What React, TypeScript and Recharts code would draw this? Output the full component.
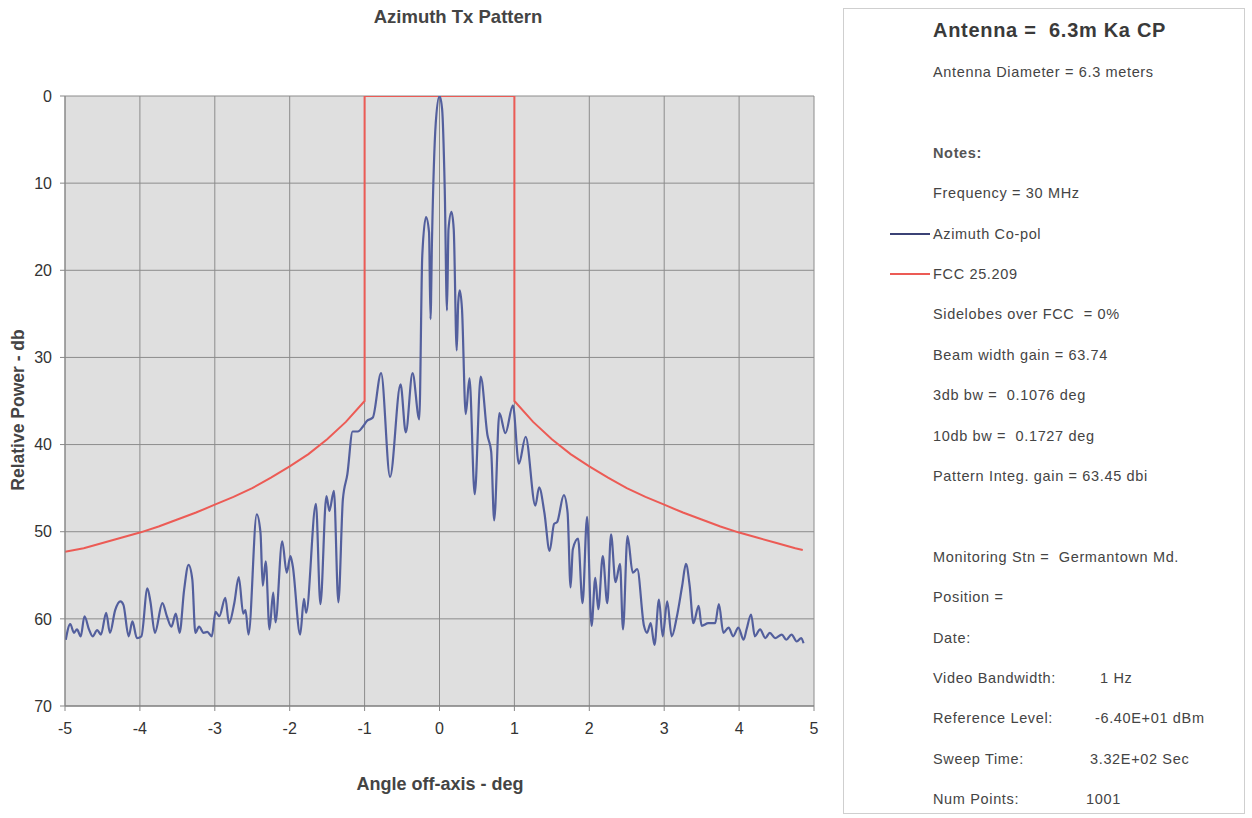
import { LineChart, Line, XAxis, YAxis, CartesianGrid } from 'recharts';

const ANGLE_TICKS = [-5, -4, -3, -2, -1, 0, 1, 2, 3, 4, 5];
const DB_TICKS = [0, 10, 20, 30, 40, 50, 60, 70];

// Azimuth co-pol trace (deg, dB below peak)
const COPOL_ANGLE = [
  -4.99, -4.93, -4.88, -4.84, -4.79, -4.74, -4.68, -4.63, -4.57, -4.52,
  -4.45, -4.4, -4.33, -4.26, -4.22, -4.15, -4.1, -4.04, -3.98, -3.9,
  -3.86, -3.8, -3.7, -3.64, -3.58, -3.52, -3.47, -3.41, -3.35, -3.3,
  -3.26, -3.21, -3.15, -3.1, -3.04, -2.99, -2.94, -2.86, -2.81, -2.74,
  -2.68, -2.62, -2.59, -2.55, -2.44, -2.39, -2.36, -2.32, -2.27, -2.22,
  -2.19, -2.1, -2.04, -1.99, -1.96, -1.86, -1.81, -1.78, -1.65, -1.59,
  -1.51, -1.47, -1.41, -1.35, -1.29, -1.23, -1.16, -1.09, -1.02, -0.97,
  -0.89, -0.78, -0.66, -0.52, -0.45, -0.36, -0.27, -0.23, -0.18, -0.14,
  -0.12, -0.1, -0.05, 0, 0.035, 0.07, 0.1, 0.12, 0.16, 0.19,
  0.23, 0.25, 0.27, 0.3, 0.35, 0.4, 0.47, 0.55, 0.64, 0.69,
  0.73, 0.8, 0.88, 0.98, 1.06, 1.15, 1.28, 1.33, 1.4, 1.47,
  1.53, 1.57, 1.66, 1.71, 1.75, 1.78, 1.85, 1.91, 1.97, 2.03,
  2.08, 2.12, 2.18, 2.24, 2.29, 2.35, 2.41, 2.45, 2.51, 2.58,
  2.64, 2.73, 2.77, 2.82, 2.87, 2.93, 2.98, 3.04, 3.1, 3.17,
  3.24, 3.29, 3.34, 3.39, 3.46, 3.5, 3.59, 3.68, 3.73, 3.79,
  3.86, 3.92, 3.99, 4.06, 4.1, 4.16, 4.21, 4.28, 4.35, 4.41,
  4.48, 4.57, 4.63, 4.7, 4.77, 4.83, 4.86,
];
const COPOL_DB = [
  62.4, 60.6, 61.6, 61.2, 62.0, 59.7, 61.2, 62.0, 61.3, 61.8,
  59.3, 61.6, 59.0, 58.0, 58.4, 62.0, 60.3, 62.2, 62.0, 56.5,
  58.0, 61.6, 58.2, 59.7, 60.9, 59.4, 61.6, 56.7, 53.8, 55.5,
  61.6, 60.9, 61.6, 61.5, 62.0, 59.2, 59.7, 57.6, 60.5, 58.2,
  55.2, 59.4, 59.0, 61.8, 48.0, 50.1, 56.2, 53.4, 61.2, 57.0,
  60.4, 51.1, 54.7, 52.8, 53.9, 61.8, 57.7, 59.3, 46.8, 58.3,
  45.9, 47.6, 45.3, 58.1, 46.3, 43.4, 38.5, 38.5, 37.9, 37.3,
  36.9, 31.8, 43.7, 33.1, 38.6, 31.8, 37.1, 18.3, 13.9, 15.6,
  25.6, 16.4, 3.1, 0, 1.5, 10.7, 24.6, 15.3, 13.3, 15.3,
  29.2, 23.7, 22.3, 24.4, 36.5, 32.4, 45.7, 32.2, 38.9, 40.8,
  48.7, 36.4, 38.7, 35.5, 42.2, 39.1, 47.0, 44.9, 47.8, 52.2,
  49.1, 48.9, 45.8, 47.8, 56.4, 52.0, 50.8, 58.2, 48.3, 60.8,
  55.3, 58.9, 52.8, 58.2, 50.3, 55.8, 53.7, 61.2, 50.5, 54.7,
  54.3, 60.8, 61.6, 60.5, 63.0, 57.8, 62.0, 58.0, 62.0, 59.7,
  56.2, 53.7, 56.2, 60.5, 58.5, 60.8, 60.5, 60.5, 58.3, 61.6,
  61.0, 62.0, 61.0, 62.4, 61.2, 59.5, 62.0, 61.2, 62.2, 61.6,
  62.2, 61.8, 62.4, 61.8, 62.6, 62.2, 62.8,
];

// FCC 25.209 mask as drawn
const FCC_ANGLE = [
  -5, -4.75, -4.5, -4.25, -4, -3.75, -3.5, -3.25, -3, -2.75, -2.5, -2.25,
  -2, -1.75, -1.5, -1.25, -1, -1, 1, 1, 1.25, 1.5, 1.75, 2, 2.25, 2.5,
  2.75, 3, 3.25, 3.5, 3.75, 4, 4.25, 4.5, 4.75, 4.85,
];
const FCC_DB = [
  52.3, 51.9, 51.3, 50.7, 50.1, 49.4, 48.6, 47.8, 46.9, 46.0, 45.0, 43.8,
  42.5, 41.1, 39.4, 37.4, 35.0, 0, 0, 35.0, 37.4, 39.4, 41.1, 42.5, 43.8, 45.0,
  46.0, 46.9, 47.8, 48.6, 49.4, 50.1, 50.7, 51.3, 51.9, 52.1,
];

const CHART_TITLE = 'Azimuth Tx Pattern';
const X_TITLE = 'Angle off-axis - deg';
const Y_TITLE = 'Relative Power - db';

const PANEL_TITLE = 'Antenna =  6.3m Ka CP';
const PANEL_LABELS = [
  'Antenna Diameter = 6.3 meters',
  '',
  'Notes:',
  'Frequency = 30 MHz',
  'Azimuth Co-pol',
  'FCC 25.209',
  'Sidelobes over FCC  = 0%',
  'Beam width gain = 63.74',
  '3db bw =  0.1076 deg',
  '10db bw =  0.1727 deg',
  'Pattern Integ. gain = 63.45 dbi',
  '',
  'Monitoring Stn =  Germantown Md.',
  'Position =',
  'Date:',
  'Video Bandwidth:',
  'Reference Level:',
  'Sweep Time:',
  'Num Points:',
];
const PANEL_VALUES = [
  '', '', '', '', '', '', '', '', '', '', '', '', '', '', '',
  '1 Hz', '-6.40E+01 dBm', '3.32E+02 Sec', '1001',
];

const BLUE = '#535f9d';
const RED = '#ec5b55';
const FONT = '"Liberation Sans", Arial, sans-serif';

const copolData = COPOL_ANGLE.map((x, i) => ({ x, y: COPOL_DB[i] }));
const fccData = FCC_ANGLE.map((x, i) => ({ x, y: FCC_DB[i] }));

const tickStyle = { fontFamily: FONT, fontSize: 16, fill: '#333' };
const valueX = [1100, 1095, 1090, 1086];

export default function App() {
  return (
    <div style={{ position: 'absolute', left: 0, top: 0, width: 1252, height: 818, background: '#fff', fontFamily: FONT }}>
      <div style={{ position: 'absolute', left: 8, top: 6, width: 900, textAlign: 'center', fontSize: 18.5, fontWeight: 700, color: '#444' }}>
        {CHART_TITLE}
      </div>

      <LineChart width={840} height={818} margin={{ top: 96, right: 26, bottom: 82, left: 20 }}>
        <CartesianGrid fill="#dfdfdf" stroke="#8c8c8c" strokeWidth={1} />
        <XAxis
          dataKey="x"
          type="number"
          domain={[-5, 5]}
          ticks={ANGLE_TICKS}
          allowDataOverflow
          height={30}
          tick={tickStyle}
          tickSize={5}
          tickMargin={12}
          axisLine={{ stroke: '#777' }}
          tickLine={{ stroke: '#888' }}
        />
        <YAxis
          dataKey="y"
          type="number"
          domain={[0, 70]}
          ticks={DB_TICKS}
          reversed
          allowDataOverflow
          width={45}
          tick={tickStyle}
          tickSize={5}
          tickMargin={8}
          axisLine={{ stroke: '#888' }}
          tickLine={{ stroke: '#888' }}
        />
        <Line data={fccData} dataKey="y" type="linear" stroke={RED} strokeWidth={2} dot={false} activeDot={false} isAnimationActive={false} />
        <Line data={copolData} dataKey="y" type="monotone" stroke={BLUE} strokeWidth={2.2} dot={false} activeDot={false} isAnimationActive={false} />
      </LineChart>

      <div style={{ position: 'absolute', left: 260, top: 774, width: 360, textAlign: 'center', fontSize: 18, fontWeight: 700, color: '#444' }}>
        {X_TITLE}
      </div>
      <div style={{ position: 'absolute', left: 18, top: 410, width: 0, height: 0 }}>
        <div style={{ position: 'absolute', left: -150, top: -11, width: 300, textAlign: 'center', transform: 'rotate(-90deg)', fontSize: 17.5, fontWeight: 700, color: '#444', lineHeight: '22px' }}>
          {Y_TITLE}
        </div>
      </div>

      <div style={{ position: 'absolute', left: 843, top: 8, width: 402, height: 806, border: '1px solid #cfcfcf', boxSizing: 'border-box' }} />
      <div style={{ position: 'absolute', left: 933, top: 19, fontSize: 20, letterSpacing: 0.7, fontWeight: 700, color: '#3a3a3a', whiteSpace: 'pre' }}>
        {PANEL_TITLE}
      </div>
      {PANEL_LABELS.map((label, i) => {
        const y = 72 + i * 40.4;
        return (
          <div key={i}>
            {i === 4 || i === 5 ? (
              <div style={{ position: 'absolute', left: 890, top: y - 1, width: 40, height: 2, background: i === 4 ? '#3b4275' : RED }} />
            ) : null}
            <div style={{ position: 'absolute', left: 933, top: y - 10, lineHeight: '20px', fontSize: 14.5, letterSpacing: 0.65, fontWeight: i === 2 ? 700 : 400, color: i === 2 ? '#555' : '#444', whiteSpace: 'pre' }}>
              {label}
            </div>
            {PANEL_VALUES[i] ? (
              <div style={{ position: 'absolute', left: valueX[i - 15], top: y - 10, lineHeight: '20px', fontSize: 14.5, letterSpacing: 0.65, color: '#444', whiteSpace: 'pre' }}>
                {PANEL_VALUES[i]}
              </div>
            ) : null}
          </div>
        );
      })}
    </div>
  );
}
